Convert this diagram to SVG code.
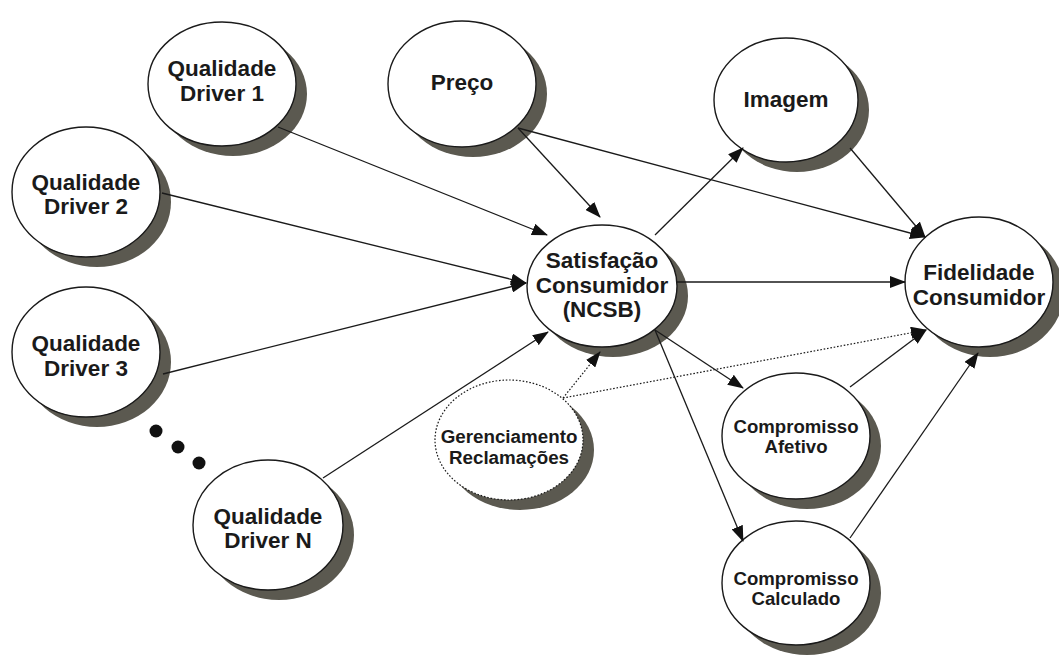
<svg xmlns="http://www.w3.org/2000/svg" width="1059" height="659" viewBox="0 0 1059 659">
  <style>
    .shadow { fill: #5b5950; }
    .node { fill: #ffffff; stroke: #1a1a1a; stroke-width: 1.4; }
    .dotted { stroke-dasharray: 1.6 1.8; stroke-width: 1.2; }
    .lbl { font-family: "Liberation Sans", Arial, sans-serif; font-weight: bold; fill: #1a1a1a; text-anchor: middle; }
    .big { font-size: 22.5px; }
    .mid { font-size: 18.8px; }
    .small { font-size: 18.6px; }
    .edge { stroke: #1a1a1a; stroke-width: 1.3; fill: none; marker-end: url(#arrow); }
    .edge.dot { stroke-dasharray: 1.6 1.8; stroke-width: 1.2; }
  </style>
  <defs>
    <marker id="arrow" viewBox="0 0 16 12" refX="15" refY="6" markerWidth="16" markerHeight="12" markerUnits="userSpaceOnUse" orient="auto">
      <path d="M0,0 L16,6 L0,12 Z" fill="#111"/>
    </marker>
  </defs>
  <rect width="1059" height="659" fill="#ffffff"/>

  <!-- nodes -->
  <g id="q1">
    <ellipse class="shadow" cx="233" cy="94" rx="74" ry="62"/>
    <ellipse class="node" cx="222" cy="84" rx="74" ry="62"/>
    <text class="lbl big" x="222" y="76">Qualidade</text>
    <text class="lbl big" x="222" y="101">Driver 1</text>
  </g>
  <g id="q2">
    <ellipse class="shadow" cx="97" cy="202" rx="74" ry="65"/>
    <ellipse class="node" cx="86" cy="192" rx="74" ry="65"/>
    <text class="lbl big" x="86" y="190">Qualidade</text>
    <text class="lbl big" x="86" y="214">Driver 2</text>
  </g>
  <g id="q3">
    <ellipse class="shadow" cx="97" cy="362" rx="74" ry="65"/>
    <ellipse class="node" cx="86" cy="352" rx="74" ry="65"/>
    <text class="lbl big" x="86" y="351">Qualidade</text>
    <text class="lbl big" x="86" y="376">Driver 3</text>
  </g>
  <g id="more">
    <circle cx="156" cy="431" r="6.5" fill="#111"/>
    <circle cx="178" cy="447" r="6.5" fill="#111"/>
    <circle cx="199" cy="463" r="6.5" fill="#111"/>
  </g>
  <g id="qn">
    <ellipse class="shadow" cx="279" cy="535" rx="75" ry="65"/>
    <ellipse class="node" cx="268" cy="525" rx="75" ry="65"/>
    <text class="lbl big" x="268" y="524">Qualidade</text>
    <text class="lbl big" x="268" y="548">Driver N</text>
  </g>
  <g id="preco">
    <ellipse class="shadow" cx="473" cy="94" rx="74" ry="63"/>
    <ellipse class="node" cx="462" cy="84" rx="74" ry="63"/>
    <text class="lbl big" x="462" y="90">Preço</text>
  </g>
  <g id="imagem">
    <ellipse class="shadow" cx="797" cy="110" rx="72" ry="62"/>
    <ellipse class="node" cx="786" cy="100" rx="72" ry="62"/>
    <text class="lbl big" x="786" y="107">Imagem</text>
  </g>
  <g id="satisfacao">
    <ellipse class="shadow" cx="613" cy="296" rx="75" ry="61"/>
    <ellipse class="node" cx="602" cy="286" rx="75" ry="61"/>
    <text class="lbl big" x="602" y="268">Satisfação</text>
    <text class="lbl big" x="602" y="293">Consumidor</text>
    <text class="lbl big" x="602" y="317">(NCSB)</text>
  </g>
  <g id="fidelidade">
    <ellipse class="shadow" cx="990" cy="292" rx="74" ry="65"/>
    <ellipse class="node" cx="979" cy="282" rx="74" ry="65"/>
    <text class="lbl big" x="979" y="280">Fidelidade</text>
    <text class="lbl big" x="979" y="305">Consumidor</text>
  </g>
  <g id="gerenciamento">
    <ellipse class="shadow" cx="520" cy="450" rx="74" ry="60"/>
    <ellipse class="node dotted" cx="509" cy="440" rx="74" ry="60"/>
    <text class="lbl mid" x="509" y="443">Gerenciamento</text>
    <text class="lbl mid" x="509" y="464">Reclamações</text>
  </g>
  <g id="afetivo">
    <ellipse class="shadow" cx="807" cy="446" rx="74" ry="63"/>
    <ellipse class="node" cx="796" cy="436" rx="74" ry="63"/>
    <text class="lbl small" x="796" y="433">Compromisso</text>
    <text class="lbl small" x="796" y="453">Afetivo</text>
  </g>
  <g id="calculado">
    <ellipse class="shadow" cx="807" cy="593" rx="74" ry="62"/>
    <ellipse class="node" cx="796" cy="583" rx="74" ry="62"/>
    <text class="lbl small" x="796" y="585">Compromisso</text>
    <text class="lbl small" x="796" y="605">Calculado</text>
  </g>

  <!-- connectors -->
  <g id="connectors">
    <line class="edge" x1="278" y1="127" x2="547" y2="235"/>
    <line class="edge" x1="162" y1="193" x2="526" y2="283"/>
    <line class="edge" x1="163" y1="374" x2="526" y2="283"/>
    <line class="edge" x1="323" y1="478" x2="548" y2="332"/>
    <line class="edge" x1="518" y1="128" x2="600" y2="217"/>
    <line class="edge" x1="518" y1="128" x2="925" y2="237"/>
    <line class="edge" x1="655" y1="235" x2="743" y2="148"/>
    <line class="edge" x1="850" y1="148" x2="925" y2="237"/>
    <line class="edge" x1="677" y1="282" x2="905" y2="282"/>
    <line class="edge" x1="655" y1="330" x2="743" y2="388"/>
    <line class="edge" x1="655" y1="330" x2="743" y2="541"/>
    <line class="edge" x1="850" y1="387" x2="926" y2="330"/>
    <line class="edge" x1="850" y1="538" x2="978" y2="353"/>
    <line class="edge dot" x1="563" y1="398" x2="600" y2="352"/>
    <line class="edge dot" x1="563" y1="398" x2="926" y2="330"/>
  </g>
</svg>
